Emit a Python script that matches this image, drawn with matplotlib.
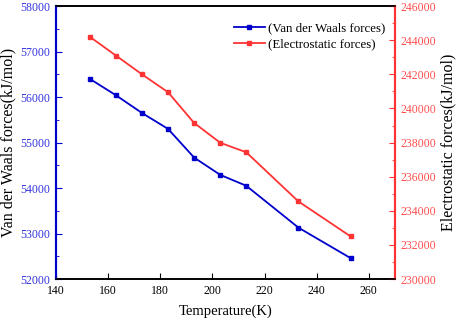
import matplotlib
matplotlib.use('Agg')
import matplotlib.pyplot as plt
from matplotlib.ticker import MultipleLocator

plt.rcParams['font.family'] = ['Liberation Serif', 'DejaVu Serif']

temperature = [153, 163, 173, 183, 193, 203, 213, 233, 253]
vdw = [56400, 56040, 55650, 55300, 54670, 54290, 54050, 53130, 52460]
electro = [244200, 243100, 242000, 240950, 239150, 237990, 237430, 234550, 232500]

blue = '#0000cc'
red = '#ff3333'

fig = plt.figure(figsize=(4.57, 3.22), dpi=100)
ax = fig.add_axes([0.1225, 0.1335, 0.7415, 0.8475])
ax2 = ax.twinx()

l1, = ax.plot(temperature, vdw, '-s', color=blue, lw=1.3, ms=3.5,
              label='(Van der Waals forces)')
l2, = ax2.plot(temperature, electro, '-s', color=red, lw=1.3, ms=3.5,
               label='(Electrostatic forces)')

ax.set_xlim(140, 270)
ax.set_ylim(52000, 58000)
ax2.set_ylim(230000, 246000)
ax.xaxis.set_major_locator(MultipleLocator(20))
ax.yaxis.set_major_locator(MultipleLocator(1000))
ax.yaxis.set_minor_locator(MultipleLocator(500))
ax2.yaxis.set_major_locator(MultipleLocator(2000))
ax2.yaxis.set_minor_locator(MultipleLocator(1000))

ax.set_xlabel('Temperature(K)', fontsize=10.5, labelpad=6)
ax.set_ylabel('Van der Waals forces(kJ/mol)', fontsize=11.5, labelpad=3)
ax2.set_ylabel('Electrostatic forces(kJ/mol)', fontsize=11.5, labelpad=3)

ax.tick_params(axis='x', direction='in', labelsize=8.5, length=4, pad=4)
ax.tick_params(axis='y', which='both', direction='in', colors=blue,
               labelsize=8.5, pad=4)
ax.yaxis.set_tick_params(which='both', labelcolor='#3333dd')
ax.tick_params(axis='y', which='major', length=4)
ax.tick_params(axis='y', which='minor', length=2)
ax2.tick_params(axis='y', which='both', direction='in', colors=red,
                labelsize=8.5, pad=4)
ax2.yaxis.set_tick_params(which='both', labelcolor='#ff4d4d')
ax2.tick_params(axis='y', which='major', length=4)
ax2.tick_params(axis='y', which='minor', length=2)

for a in (ax, ax2):
    a.spines['left'].set_color(blue)
    a.spines['right'].set_color(red)
    a.spines['left'].set_linewidth(1.5)
    a.spines['right'].set_linewidth(1.5)
    a.spines['bottom'].set_linewidth(1.2)
    a.spines['top'].set_linewidth(1.2)

ax2.legend([l1, l2], [l1.get_label(), l2.get_label()], loc='upper right',
           bbox_to_anchor=(1.0, 0.975), frameon=False, fontsize=9.3,
           handlelength=2.4, borderaxespad=0.3, handletextpad=0.3,
           labelspacing=0.35, borderpad=0.4)

plt.savefig('out.png', dpi=100)
